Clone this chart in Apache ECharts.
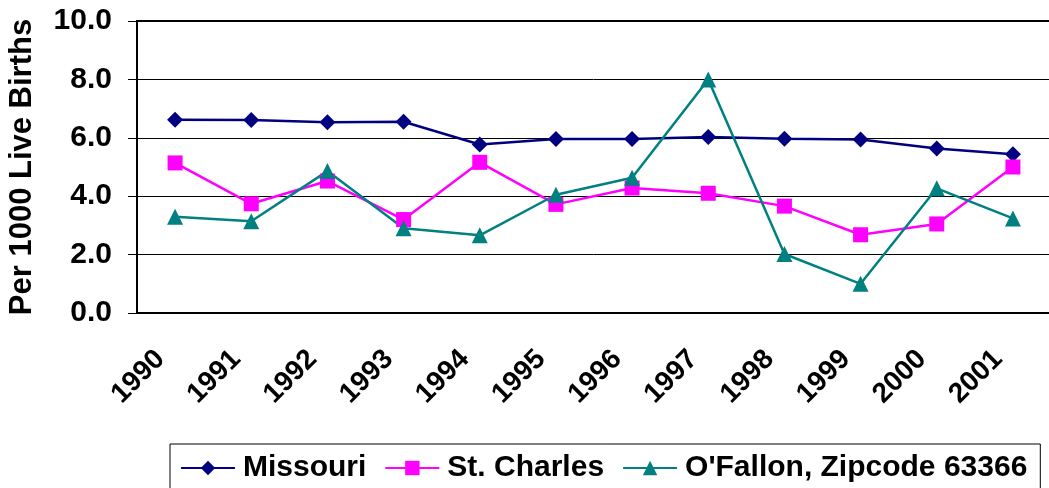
<!DOCTYPE html>
<html>
<head>
<meta charset="utf-8">
<script src="https://cdn.jsdelivr.net/npm/echarts@6/dist/echarts.min.js"></script>
<style>
  html, body { margin: 0; padding: 0; background: #fff; }
  #chart { width: 1049px; height: 488px; }
</style>
</head>
<body>
<div id="chart"></div>
<script>
var years = ['1990', '1991', '1992', '1993', '1994', '1995', '1996', '1997', '1998', '1999', '2000', '2001'];
var missouri = [6.62, 6.61, 6.53, 6.55, 5.77, 5.96, 5.96, 6.03, 5.97, 5.94, 5.63, 5.44];
var stCharles = [5.14, 3.74, 4.52, 3.2, 5.16, 3.72, 4.28, 4.1, 3.66, 2.68, 3.05, 5.0];
var oFallon = [3.3, 3.14, 4.86, 2.9, 2.66, 4.05, 4.63, 8.0, 2.02, 1.0, 4.27, 3.24];
var seriesNames = ['Missouri', 'St. Charles', "O'Fallon, Zipcode 63366"];

var font = "'Liberation Sans', Arial, sans-serif";
var chart = echarts.init(document.getElementById('chart'));

var option = {
    animation: false,
    grid: {
        left: 137, top: 21, right: -2, bottom: 175,
        outerBoundsMode: 'none',
        show: true,
        borderColor: '#000',
        borderWidth: 2
    },
    legend: {
        left: 170, top: 444,
        padding: [7, 13, 14, 10],
        borderColor: '#000',
        borderWidth: 1,
        itemWidth: 54,
        itemHeight: 18,
        itemGap: 18,
        textStyle: {
            fontFamily: font, fontWeight: 'bold', fontSize: 30,
            color: '#000', lineHeight: 34, padding: [0, 0, 0, 3]
        },
        data: seriesNames
    },
    xAxis: {
        type: 'category',
        data: years,
        axisLine: { lineStyle: { color: '#000', width: 2 } },
        axisTick: { length: 10, lineStyle: { color: '#000', width: 1 } },
        axisLabel: {
            interval: 0, rotate: 45, margin: 27,
            padding: [0, 21, 0, 0],
            fontFamily: font, fontWeight: 'bold', fontSize: 28, color: '#000'
        }
    },
    yAxis: {
        type: 'value',
        min: 0, max: 10, interval: 2,
        name: 'Per 1000 Live Births',
        nameLocation: 'middle',
        nameGap: 99,
        nameTextStyle: { fontFamily: font, fontWeight: 'bold', fontSize: 31, color: '#000' },
        axisLine: { show: true, lineStyle: { color: '#000', width: 2 } },
        axisTick: { show: true, length: 9, lineStyle: { color: '#000', width: 1 } },
        splitLine: { lineStyle: { color: '#000', width: 1 } },
        axisLabel: {
            margin: 25,
            fontFamily: font, fontWeight: 'bold', fontSize: 30, color: '#000',
            formatter: function (v) { return v.toFixed(1); }
        }
    },
    series: [
        {
            name: seriesNames[0], type: 'line', data: missouri,
            symbol: 'diamond', symbolSize: 16,
            lineStyle: { color: '#000080', width: 2.5 },
            itemStyle: { color: '#000080' }
        },
        {
            name: seriesNames[1], type: 'line', data: stCharles,
            symbol: 'rect', symbolSize: 15,
            lineStyle: { color: '#FF00FF', width: 2.5 },
            itemStyle: { color: '#FF00FF' }
        },
        {
            name: seriesNames[2], type: 'line', data: oFallon,
            symbol: 'triangle', symbolSize: 16,
            lineStyle: { color: '#008080', width: 2.5 },
            itemStyle: { color: '#008080' }
        }
    ]
};
chart.setOption(option);
</script>
</body>
</html>
